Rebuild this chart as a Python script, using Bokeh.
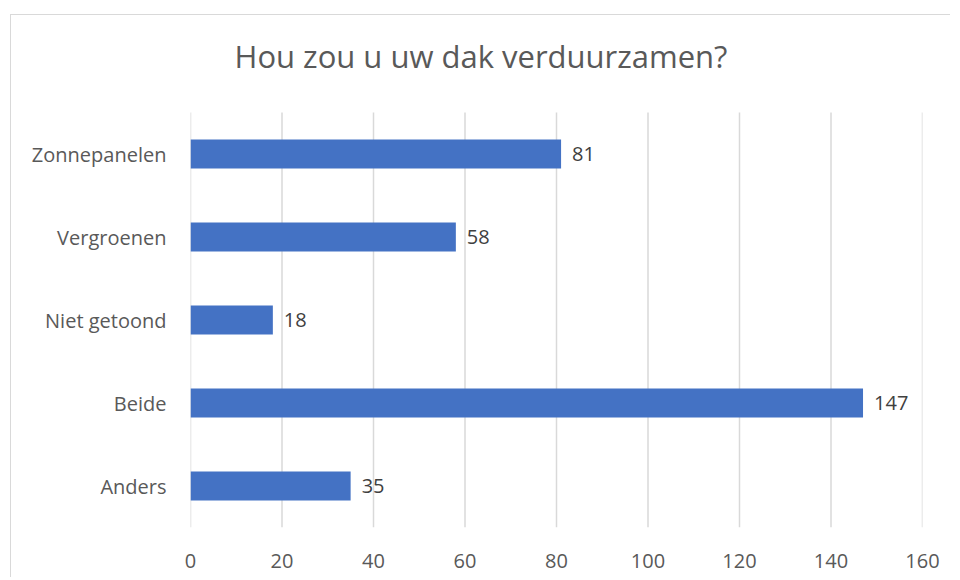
from bokeh.plotting import figure
from bokeh.models import ColumnDataSource, Range1d, FixedTicker, LabelSet, Label
from bokeh.core.properties import value
from bokeh.embed import file_html
from bokeh.resources import INLINE

categories = ["Zonnepanelen", "Vergroenen", "Niet getoond", "Beide", "Anders"]
values = [81, 58, 18, 147, 35]
x_ticks = [0, 20, 40, 60, 80, 100, 120, 140, 160]
title_text = "Hou zou u uw dak verduurzamen?"

FONT = "Open Sans"
GREY = "#595959"

n = len(categories)
# category slots from top to bottom: slot centre positions (numeric, top = highest)
y_pos = [n - i - 0.5 for i in range(n)]

source = ColumnDataSource(dict(cat=categories, y=y_pos, val=values,
                               lbl=[str(v) for v in values]))

SLOT_PX = 83.0          # height of one category slot in pixels
TOP_SPACE_PX = 97.0     # space above the bars for the title
FRAME_H = int(n * SLOT_PX + TOP_SPACE_PX)

p = figure(
    width=940, height=FRAME_H + 51,
    y_range=Range1d(0, n + TOP_SPACE_PX / SLOT_PX),
    x_range=Range1d(0, 160),
    output_backend="svg", toolbar_location=None,
    min_border_left=179, min_border_right=29, min_border_top=0, min_border_bottom=51,
)
p.margin = (14, 0, 0, 10)
p.styles = {"border-top": "1px solid #d9d9d9", "border-left": "1px solid #d9d9d9"}

# vertical grid lines only over the bar area
p.segment(x0=x_ticks, x1=x_ticks, y0=[0] * len(x_ticks), y1=[n] * len(x_ticks),
          line_color="#d9d9d9", line_width=1.5)

p.hbar(y="y", right="val", left=0, height=0.35, source=source,
       fill_color="#4472C4", line_color=None)

labels = LabelSet(x="val", y="y", text="lbl", source=source, x_offset=11,
                  text_baseline="middle", text_align="left",
                  text_font=value(FONT), text_font_size="20px", text_color="#404040")
p.add_layout(labels)

title = Label(x=63.5, y=n, y_offset=57, text=title_text,
              text_align="center", text_baseline="middle",
              text_font=FONT, text_font_size="31px", text_color=GREY)
p.add_layout(title)

p.outline_line_color = None
p.background_fill_color = "white"
p.border_fill_color = "white"
p.xgrid.grid_line_color = None
p.ygrid.grid_line_color = None

p.xaxis.ticker = FixedTicker(ticks=x_ticks)
p.yaxis.ticker = FixedTicker(ticks=y_pos)
p.yaxis.major_label_overrides = {y: c for y, c in zip(y_pos, categories)}

for ax in (p.xaxis, p.yaxis):
    ax.axis_line_color = None
    ax.major_tick_line_color = None
    ax.minor_tick_line_color = None
    ax.major_tick_out = 0
    ax.major_tick_in = 0
    ax.minor_tick_out = 0
    ax.major_label_text_font = FONT
    ax.major_label_text_font_size = "20px"
    ax.major_label_text_color = GREY
p.yaxis.major_label_standoff = 24
p.xaxis.major_label_standoff = 26

open("out.html", "w").write(file_html(p, INLINE))
